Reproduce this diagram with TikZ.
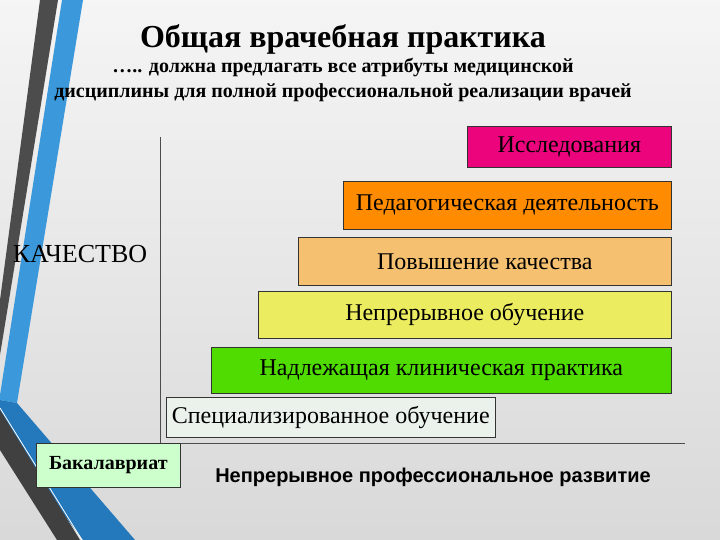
\documentclass[tikz,border=0pt]{standalone}
\usepackage{fontspec}
\setmainfont{Liberation Serif}
\newfontfamily\sansf{Liberation Sans}
\begin{document}
\begin{tikzpicture}[x=1pt,y=-1pt,
  bar/.style={draw=black!80,line width=0.6pt,inner sep=0pt,font=\fontsize{24}{26}\selectfont},
  ax/.style={draw=black!70,line width=0.7pt}]
\useasboundingbox (0,0) rectangle (720,540);
\shade[top color=white!96!black,bottom color=white!85!black] (0,0) rectangle (720,540);
% decorations
\fill[black!70] (40,0) -- (58,0) -- (0,355) -- (0,300) -- cycle;
\fill[cyan!70!blue!80] (62,0) -- (83,0) -- (17,403) -- (0,400) -- (0,395) -- cycle;
\fill[cyan!60!blue!90!black] (0,400) -- (17,403) -- (135,540) -- (83,540) -- (0,430) -- cycle;
\fill[black!75] (0,410) -- (80,540) -- (57,540) -- (0,450) -- cycle;
\draw[white,line width=0.8pt] (0,408) -- (82,540);
% titles
\node (t) at (343,39) {\fontsize{32}{34}\selectfont\bfseries Общая врачебная практика};
\node (s1) at (343,68) {\fontsize{20}{22}\selectfont\bfseries ….. должна предлагать все атрибуты медицинской};
\node (s2) at (343,93) {\fontsize{20}{22}\selectfont\bfseries дисциплины для полной профессиональной реализации врачей};
% axes
\coordinate (o) at (160,443);
\coordinate (yt) at (160,137);
\coordinate (xr) at (685,443);
\draw[ax] (yt) -- (o) -- (xr);
% bars
\node[bar,fill=magenta!85!red,minimum width=204pt,minimum height=41pt,anchor=north west] (b1) at (467,126) {Исследования};
\node[bar,fill=orange!90!yellow,minimum width=328pt,minimum height=48pt,anchor=north west] (b2) at (343,181) {Педагогическая деятельность};
\node[bar,fill={rgb,255:red,245;green,192;blue,112},minimum width=373pt,minimum height=48pt,anchor=north west] (b3) at (298,237) {Повышение качества};
\node[bar,fill={rgb,255:red,236;green,236;blue,96},minimum width=413pt,minimum height=47pt,anchor=north west] (b4) at (258,291) {Непрерывное обучение};
\node[bar,fill={rgb,255:red,80;green,220;blue,0},minimum width=460pt,minimum height=46pt,anchor=north west] (b5) at (211,347) {Надлежащая клиническая практика};
\node[bar,fill={rgb,255:red,235;green,242;blue,235},minimum width=329pt,minimum height=40pt,anchor=north west] (b6) at (166,397) {Специализированное обучение};
\node[bar,fill={rgb,255:red,204;green,255;blue,204},minimum width=144pt,minimum height=44pt,anchor=north west,font=\fontsize{20}{22}\selectfont\bfseries] (b7) at (36,443) {Бакалавриат};
\node (q) at (80,254) {\fontsize{26}{28}\selectfont КАЧЕСТВО};
\node (r) at (433,477) {\sansf\bfseries\fontsize{20}{22}\selectfont Непрерывное профессиональное развитие};
\end{tikzpicture}
\end{document}
